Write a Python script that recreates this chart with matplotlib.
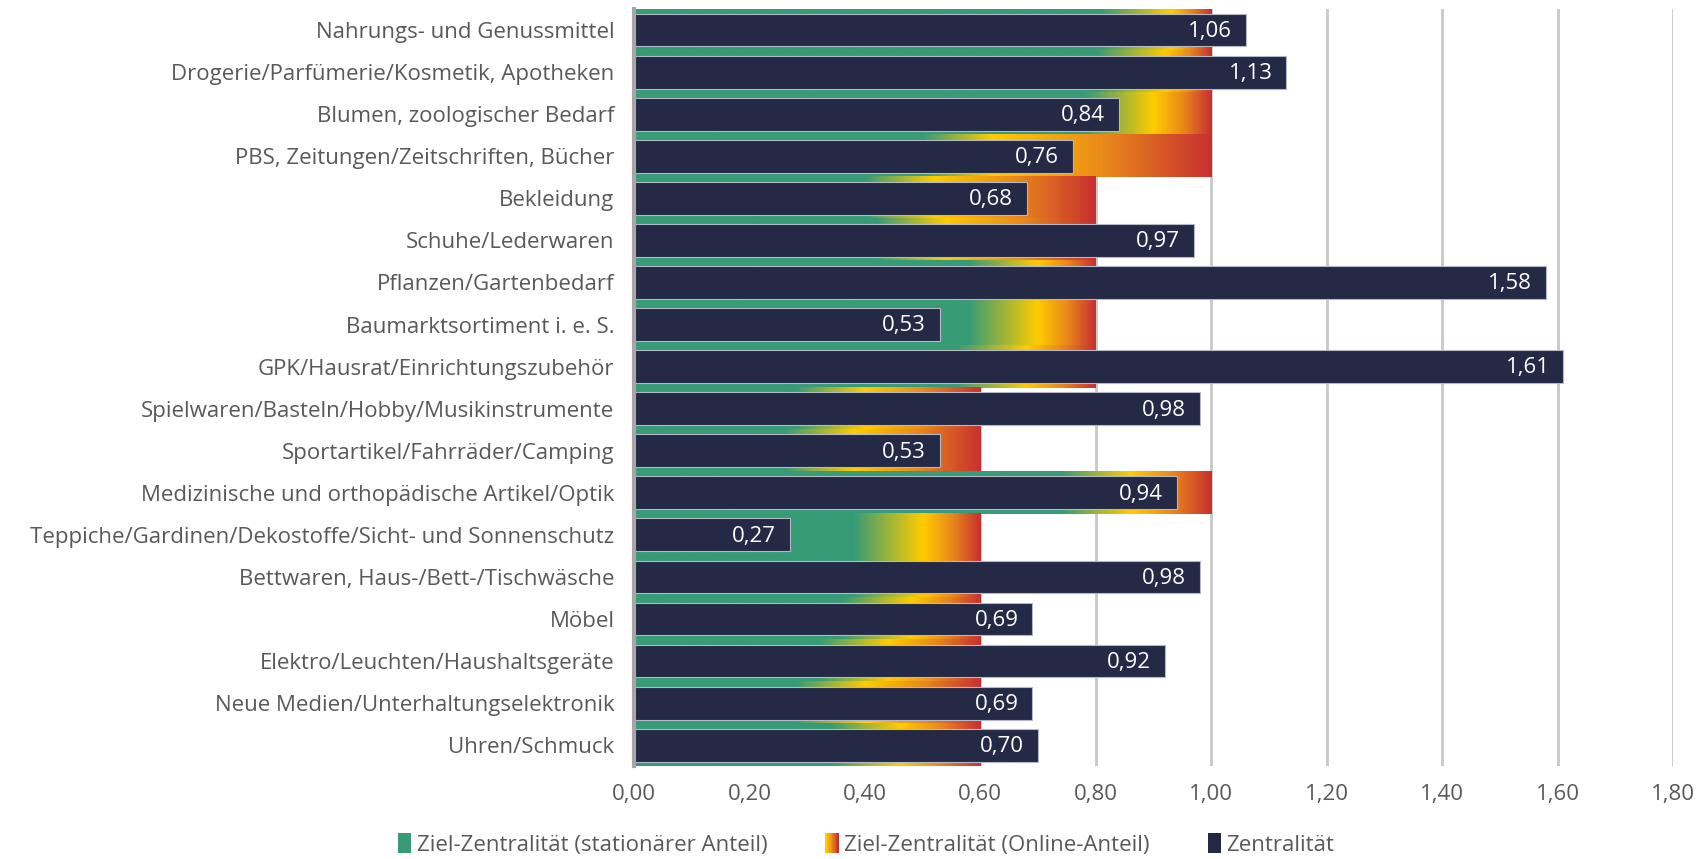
import numpy as np
import matplotlib
matplotlib.use("Agg")
import matplotlib.pyplot as plt
from matplotlib.patches import Rectangle, Patch
from matplotlib.legend_handler import HandlerBase


categories = [
    "Nahrungs- und Genussmittel",
    "Drogerie/Parfümerie/Kosmetik, Apotheken",
    "Blumen, zoologischer Bedarf",
    "PBS, Zeitungen/Zeitschriften, Bücher",
    "Bekleidung",
    "Schuhe/Lederwaren",
    "Pflanzen/Gartenbedarf",
    "Baumarktsortiment i. e. S.",
    "GPK/Hausrat/Einrichtungszubehör",
    "Spielwaren/Basteln/Hobby/Musikinstrumente",
    "Sportartikel/Fahrräder/Camping",
    "Medizinische und orthopädische Artikel/Optik",
    "Teppiche/Gardinen/Dekostoffe/Sicht- und Sonnenschutz",
    "Bettwaren, Haus-/Bett-/Tischwäsche",
    "Möbel",
    "Elektro/Leuchten/Haushaltsgeräte",
    "Neue Medien/Unterhaltungselektronik",
    "Uhren/Schmuck",
]
zentralitaet = [1.06, 1.13, 0.84, 0.76, 0.68, 0.97, 1.58, 0.53, 1.61,
                0.98, 0.53, 0.94, 0.27, 0.98, 0.69, 0.92, 0.69, 0.70]
# where the stationary (green) part ends and the online part starts
ziel_stationaer = [0.93, 0.92, 0.90, 0.62, 0.52, 0.54, 0.70, 0.70, 0.68,
                   0.40, 0.38, 0.86, 0.50, 0.50, 0.48, 0.44, 0.40, 0.46]
ziel_gesamt = [1.00, 1.00, 1.00, 1.00, 0.80, 0.80, 0.80, 0.80, 0.80,
               0.60, 0.60, 1.00, 0.60, 0.60, 0.60, 0.60, 0.60, 0.60]
x_ticks = [0.0, 0.2, 0.4, 0.6, 0.8, 1.0, 1.2, 1.4, 1.6, 1.8]

green = np.array([55, 155, 118]) / 255
yellow = np.array([255, 204, 0]) / 255
orange = np.array([234, 138, 26]) / 255
red = np.array([200, 48, 48]) / 255
navy = "#242945"
label_grey = "#595959"
fs = 16

plt.rcParams["font.family"] = ["Open Sans", "DejaVu Sans"]

fig = plt.figure(figsize=(17.02, 8.59), dpi=100)
ax = fig.add_axes([0.3725, 0.108, 0.6105, 0.8815])

n = len(categories)
y = np.arange(n)
blend = 0.12


def gradient_row(s, t, steps=500):
    xs = np.linspace(0, t, steps)
    stops = [0, max(s - blend, 0.001), s, s + 0.5 * (t - s), t]
    cols = [green, green, yellow, orange, red]
    img = np.zeros((1, steps, 3))
    for c in range(3):
        img[0, :, c] = np.interp(xs, stops, [col[c] for col in cols])
    return img


for i in range(n):
    img = gradient_row(ziel_stationaer[i], ziel_gesamt[i])
    ax.imshow(img, extent=(0, ziel_gesamt[i], y[i] + 0.5, y[i] - 0.5),
              aspect="auto", interpolation="bilinear", zorder=2)

ax.barh(y, zentralitaet, height=0.78, color=navy, edgecolor="#b4b8c6",
        linewidth=0.8, zorder=3)

for i, v in enumerate(zentralitaet):
    ax.annotate(f"{v:.2f}".replace(".", ","), xy=(v, y[i]), xytext=(-10, -1),
                textcoords="offset points", ha="right", va="center",
                color="white", fontsize=fs, zorder=4)

ax.set_xlim(0, 1.8)
ax.set_ylim(n - 0.5, -0.5)
ax.set_xticks(x_ticks)
ax.set_xticklabels([f"{t:.2f}".replace(".", ",") for t in x_ticks])
ax.set_yticks(y)
ax.set_yticklabels(categories)
ax.tick_params(axis="both", length=0, labelsize=fs, labelcolor=label_grey)
ax.tick_params(axis="y", pad=14)
ax.tick_params(axis="x", pad=13)

ax.grid(axis="x", color="#c8c8c8", linewidth=2, zorder=0)
ax.grid(axis="y", visible=False)
ax.set_axisbelow(True)
for side in ["top", "right", "bottom"]:
    ax.spines[side].set_visible(False)
ax.spines["left"].set_color("#a6a6a6")
ax.spines["left"].set_linewidth(3)
ax.spines["left"].set_zorder(5)


class GradientHandler(HandlerBase):
    def create_artists(self, legend, orig_handle, xdescent, ydescent,
                       width, height, fontsize, trans):
        parts = []
        k = 10
        for j in range(k):
            f = j / (k - 1)
            if f < 0.5:
                c = yellow + (orange - yellow) * f * 2
            else:
                c = orange + (red - orange) * (f - 0.5) * 2
            parts.append(Rectangle((-xdescent + width * j / k, -ydescent),
                                   width / k, height, facecolor=c,
                                   edgecolor="none", transform=trans))
        return parts


class GradProxy:
    pass


handles = [Patch(facecolor=green), GradProxy(), Patch(facecolor=navy)]
labels = ["Ziel-Zentralität (stationärer Anteil)",
          "Ziel-Zentralität (Online-Anteil)", "Zentralität"]
fig.legend(handles, labels, loc="center", bbox_to_anchor=(0.509, 0.017),
           ncol=3, frameon=False, fontsize=fs, labelcolor=label_grey,
           handlelength=0.6, handleheight=1.0, handletextpad=0.25,
           columnspacing=2.6, handler_map={GradProxy: GradientHandler()})

fig.savefig("out.png", dpi=100)
